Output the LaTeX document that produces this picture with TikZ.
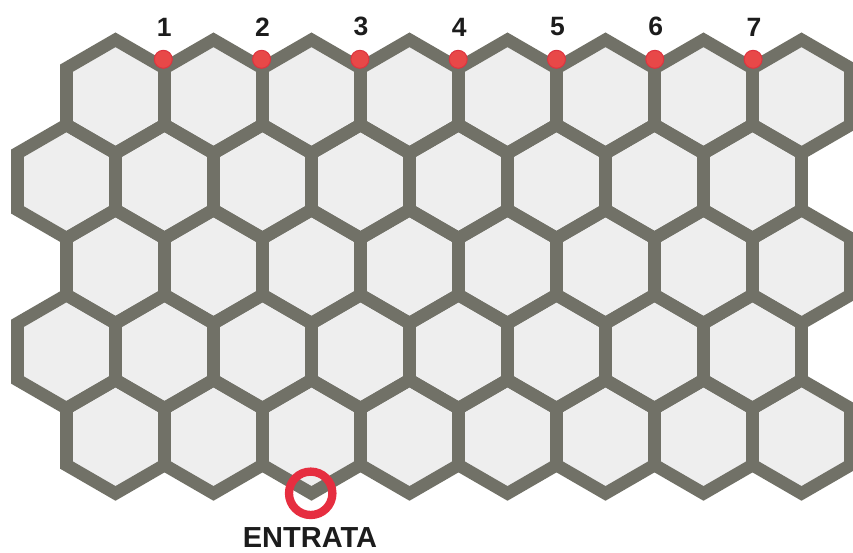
\documentclass[tikz,border=0pt]{standalone}
\usepackage{fontspec}
\setmainfont{Liberation Sans}
\usetikzlibrary{positioning}

\definecolor{hexline}{HTML}{717167}
\definecolor{hexfill}{HTML}{EEEEEE}
\definecolor{dotred}{HTML}{E84848}
\definecolor{dotrim}{HTML}{DC3440}
\definecolor{ringred}{HTML}{E62E40}
\definecolor{labeltext}{HTML}{1C1C1C}

\begin{document}
\begin{tikzpicture}[
            x=1pt, y=-1pt,
            hexfill/.style  ={fill=hexfill},
            hexedge/.style  ={draw=hexline, line width=12.7pt, line join=miter},
            gate/.style     ={circle, fill=dotred, draw=dotrim, line width=1pt,
                              inner sep=0pt, minimum size=18pt},
            gatelabel/.style={inner sep=0pt, text=labeltext,
                              font=\fontsize{26.5}{26.5}\selectfont\bfseries},
            entryring/.style={circle, draw=ringred, line width=8.3pt,
                              inner sep=0pt, minimum size=43.4pt},
            entrylabel/.style={inner sep=0pt, text=labeltext,
                              font=\fontsize{29}{29}\selectfont\bfseries}
        ]
        \useasboundingbox (0,0) rectangle (853,552);

        % honeycomb: 5 rows of 8 cells, odd rows shifted left
        \foreach \r in {0,...,4}{
            \foreach \c in {0,...,7}{
                \pgfmathsetmacro{\cx}{115.5-49*mod(\r,2)+98*\c}
                \pgfmathsetmacro{\cy}{96.5+85.05*\r}
                \path[hexfill] (\cx,\cy) +(49,-28.35) -- +(0,-56.7) -- +(-49,-28.35)
                    -- +(-49,28.35) -- +(0,56.7) -- +(49,28.35) -- cycle;
            }
        }
        \foreach \r in {0,...,4}{
            \foreach \c in {0,...,7}{
                \pgfmathsetmacro{\cx}{115.5-49*mod(\r,2)+98*\c}
                \pgfmathsetmacro{\cy}{96.5+85.05*\r}
                \path[hexedge] (\cx,\cy) +(49,-28.35) -- +(0,-56.7) -- +(-49,-28.35)
                    -- +(-49,28.35) -- +(0,56.7) -- +(49,28.35) -- cycle;
            }
        }

        % numbered gates on the top edge
        \foreach \k in {1,...,7}{
            \node[gate] (gate\k) at ({163.3+98.3*(\k-1)},59.3) {};
            \node[gatelabel, above=13.5pt of gate\k, xshift=1pt] (num\k) {\k};
        }

        % entrance
        \node[entryring] (entry) at (310.7,493.3) {};
        \node[entrylabel] (entrytext) at (310,538) {ENTRATA};
        \end{tikzpicture}
\end{document}
